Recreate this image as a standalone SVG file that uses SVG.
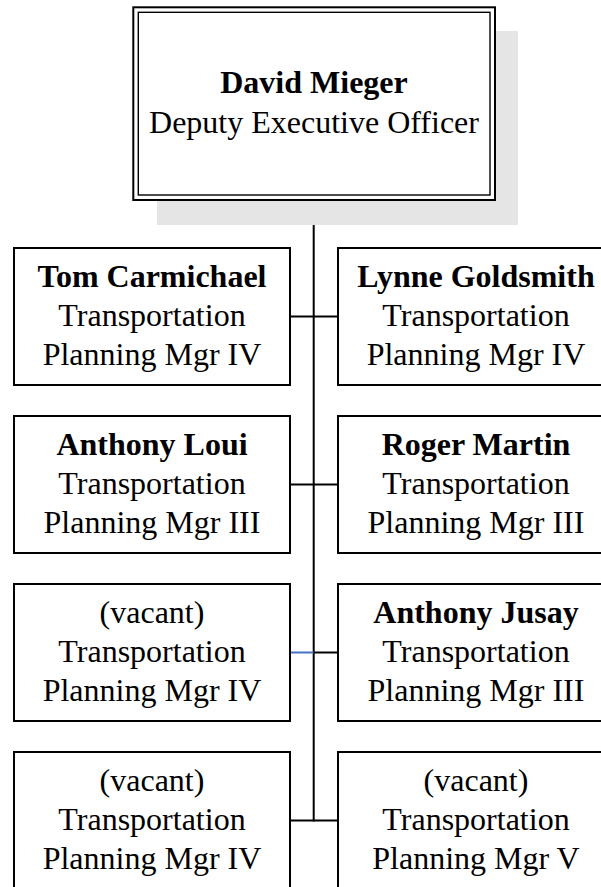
<svg xmlns="http://www.w3.org/2000/svg" width="601" height="887" viewBox="0 0 601 887">
<style>
.box{fill:#fff;stroke:#000;stroke-width:2}
.t{font-family:"Liberation Serif","Times New Roman",serif;font-size:32px;text-anchor:middle;fill:#000}
.b{font-weight:bold}
.c{stroke:#000;stroke-width:2;fill:none}
</style>
<rect width="601" height="887" fill="#fff"/>
<g id="connectors">
<line class="c" x1="313.7" y1="200" x2="313.7" y2="821.5"/>
<line class="c" x1="290" y1="316.5" x2="338" y2="316.5"/>
<line class="c" x1="290" y1="484.5" x2="338" y2="484.5"/>
<line x1="290" y1="652.5" x2="313.7" y2="652.5" stroke="#4472C4" stroke-width="2"/>
<line class="c" x1="313.7" y1="652.5" x2="338" y2="652.5"/>
<line class="c" x1="290" y1="820.5" x2="338" y2="820.5"/>
</g>
<g id="n0">
<rect x="157" y="31" width="361" height="194" fill="#e5e5e5"/>
<rect x="133.3" y="7.3" width="361.7" height="192.7" class="box"/>
<rect x="138.3" y="12.3" width="351.7" height="182.7" fill="none" stroke="#000" stroke-width="1.4"/>
<text class="t b" x="314" y="93">David Mieger</text>
<text class="t" x="314" y="133">Deputy Executive Officer</text>
</g>
<g id="n1">
<rect class="box" x="14" y="248" width="276" height="137"/>
<text class="t b" x="152" y="287">Tom Carmichael</text>
<text class="t" x="152" y="326">Transportation</text>
<text class="t" x="152" y="365">Planning Mgr IV</text>
</g>
<g id="n2">
<rect class="box" x="338" y="248" width="276" height="137"/>
<text class="t b" x="476" y="287">Lynne Goldsmith</text>
<text class="t" x="476" y="326">Transportation</text>
<text class="t" x="476" y="365">Planning Mgr IV</text>
</g>
<g id="n3">
<rect class="box" x="14" y="416" width="276" height="137"/>
<text class="t b" x="152" y="455">Anthony Loui</text>
<text class="t" x="152" y="494">Transportation</text>
<text class="t" x="152" y="533">Planning Mgr III</text>
</g>
<g id="n4">
<rect class="box" x="338" y="416" width="276" height="137"/>
<text class="t b" x="476" y="455">Roger Martin</text>
<text class="t" x="476" y="494">Transportation</text>
<text class="t" x="476" y="533">Planning Mgr III</text>
</g>
<g id="n5">
<rect class="box" x="14" y="584" width="276" height="137"/>
<text class="t" x="152" y="623">(vacant)</text>
<text class="t" x="152" y="662">Transportation</text>
<text class="t" x="152" y="701">Planning Mgr IV</text>
</g>
<g id="n6">
<rect class="box" x="338" y="584" width="276" height="137"/>
<text class="t b" x="476" y="623">Anthony Jusay</text>
<text class="t" x="476" y="662">Transportation</text>
<text class="t" x="476" y="701">Planning Mgr III</text>
</g>
<g id="n7">
<rect class="box" x="14" y="752" width="276" height="137"/>
<text class="t" x="152" y="791">(vacant)</text>
<text class="t" x="152" y="830">Transportation</text>
<text class="t" x="152" y="869">Planning Mgr IV</text>
</g>
<g id="n8">
<rect class="box" x="338" y="752" width="276" height="137"/>
<text class="t" x="476" y="791">(vacant)</text>
<text class="t" x="476" y="830">Transportation</text>
<text class="t" x="476" y="869">Planning Mgr V</text>
</g>
</svg>
